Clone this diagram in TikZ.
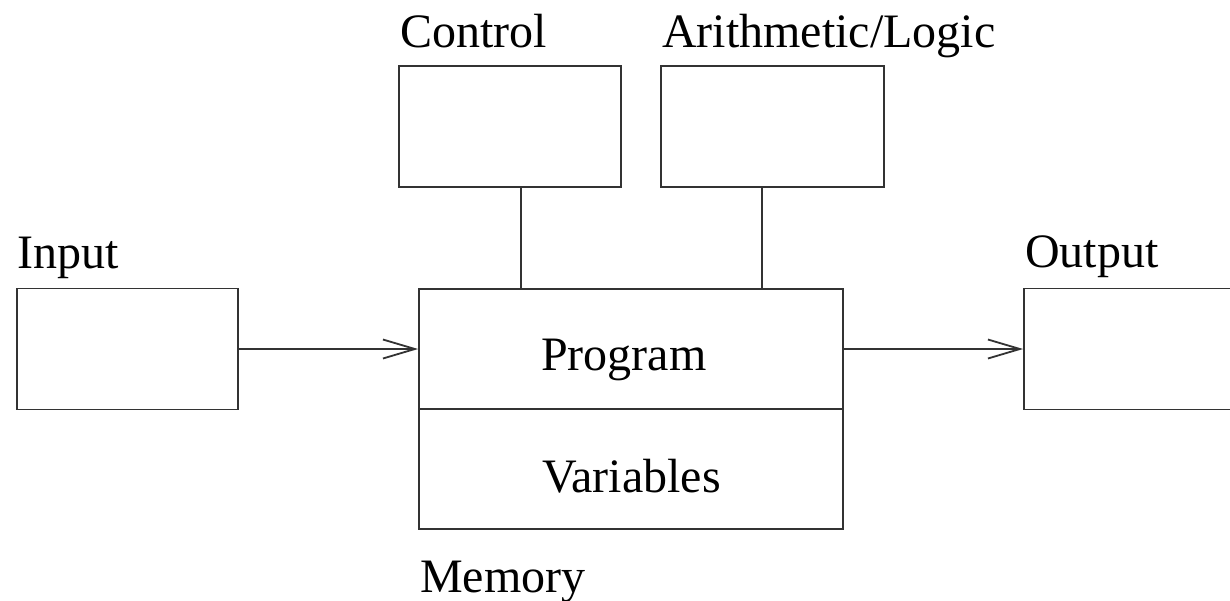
\documentclass[tikz,border=0pt]{standalone}
\usepackage{fontspec}
\setmainfont{Liberation Serif}
\usetikzlibrary{arrows.meta,calc}
\begin{document}
\begin{tikzpicture}[x=1pt,y=-1pt,
  box/.style={draw=black!80,line width=1.8pt,rectangle,inner sep=0pt},
  lbl/.style={anchor=base west,inner sep=0pt,font=\fontsize{48}{58}\selectfont},
  conn/.style={draw=black!80,line width=1.8pt},
  arr/.style={conn,-{Straight Barb[length=32pt,width=19pt,line width=1.8pt]}}]
\clip (0,0) rectangle (1230,600);
% boxes
\node[box,minimum width=221pt,minimum height=121pt] (input) at (127.5,349) {};
\node[box,minimum width=222pt,minimum height=121pt] (control) at (510,126.5) {};
\node[box,minimum width=223pt,minimum height=121pt] (arith) at (772.5,126.5) {};
\node[box,minimum width=424pt,minimum height=120pt] (program) at (631,349) {};
\node[box,minimum width=424pt,minimum height=120pt] (variables) at (631,469) {};
\node[box,minimum width=240pt,minimum height=121pt] (output) at (1144,349) {};
% labels
\node[lbl] (lcontrol) at (400,47) {Control};
\node[lbl] (larith) at (662,47) {Arithmetic/Logic};
\node[lbl] (linput) at (17,268) {Input};
\node[lbl] (loutput) at (1025,267) {Output};
\node[lbl] (lprogram) at (541,370) {Program};
\node[lbl] (lvariables) at (542,492) {Variables};
\node[lbl] (lmemory) at (420,592) {Memory};
% connectors
\draw[conn] ([xshift=11pt]control.south) -- ([xshift=11pt]control.south |- program.north);
\draw[conn] ([xshift=-10.5pt]arith.south) -- ([xshift=-10.5pt]arith.south |- program.north);
\draw[arr] (input.east) -- (program.west);
\draw[arr] (program.east) -- (output.west);
\end{tikzpicture}
\end{document}
